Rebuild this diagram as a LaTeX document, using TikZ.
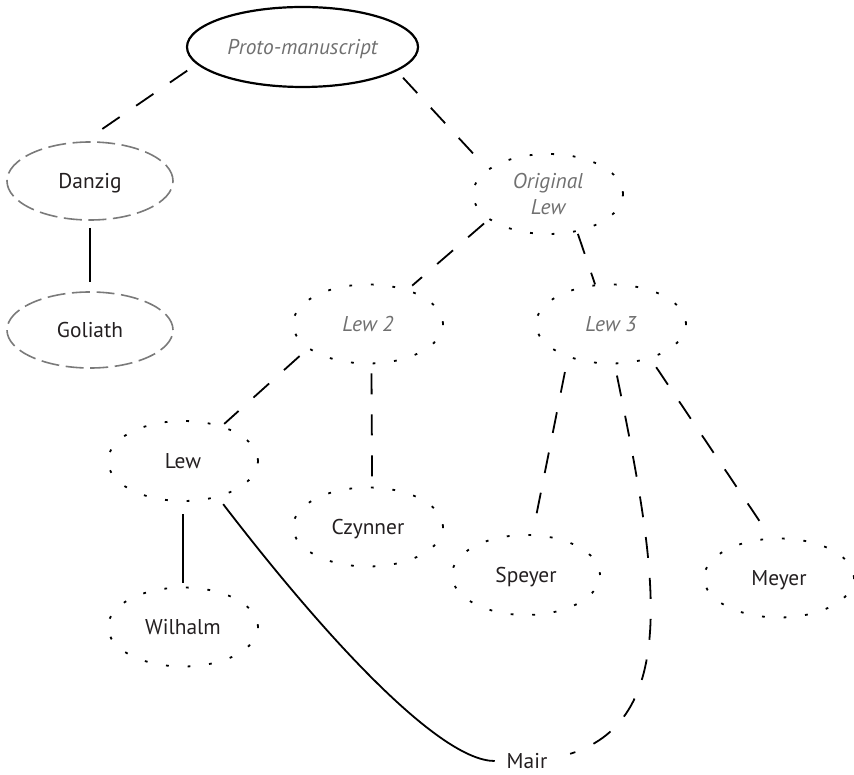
\documentclass[tikz,border=0pt]{standalone}
\usepackage{fontspec}
\setmainfont{PT Sans}
\usetikzlibrary{shapes.geometric}
\definecolor{txtgray}{HTML}{707070}
\definecolor{txtdark}{HTML}{231F20}
\definecolor{bordgray}{HTML}{7A7A7A}
\begin{document}
\begin{tikzpicture}[x=0.5pt,y=-0.5pt,
  base/.style={ellipse, inner sep=0pt, outer sep=0pt, font=\fontsize{10.7}{13}\selectfont, text=txtdark, align=center},
  oneline/.style={text height=7.5pt, text depth=0pt},
  solidbox/.style={base, oneline, draw=black, line width=1.1pt, minimum width=115.5pt, minimum height=40pt},
  grayring/.style={base, oneline, draw=bordgray, line width=0.8pt, dash pattern=on 9pt off 3.3pt, minimum width=83pt, minimum height=39pt},
  dotbox/.style={base, draw=black, line width=0.9pt, dash pattern=on 1.4pt off 9.4pt, minimum width=75pt, minimum height=39.5pt},
  ital/.style={text=txtgray, font=\fontsize{10.7}{13}\selectfont\itshape},
  longdash/.style={draw=black, line width=0.9pt, dash pattern=on 10.5pt off 10pt},
  plainline/.style={draw=black, line width=0.9pt},
]
\useasboundingbox (0,0) rectangle (854,774);

% nodes
\node[solidbox, ital] (proto) at (302.5,47) {Proto-manuscript};
\node[grayring] (danzig) at (90,181) {Danzig};
\node[grayring, minimum height=38pt] (goliath) at (90,330) {Goliath};
\node[dotbox, ital, minimum height=40pt] (origlew) at (548,194) {Original\\Lew};
\node[dotbox, oneline, ital] (lew2) at (368,324) {Lew 2};
\node[dotbox, oneline, ital] (lew3) at (611,324) {Lew 3};
\node[dotbox, oneline, minimum height=40pt] (lew) at (183,461) {Lew};
\node[dotbox, oneline] (czynner) at (368,527) {Czynner};
\node[dotbox, oneline, minimum width=74pt, minimum height=40pt] (speyer) at (526,575) {Speyer};
\node[dotbox, oneline] (meyer) at (779,578) {Meyer};
\node[dotbox, oneline] (wilhalm) at (183,627) {Wilhalm};
\node[inner sep=0pt, outer sep=0pt, font=\fontsize{10.7}{13}\selectfont, text=txtdark, text height=7.5pt, text depth=0pt] (mair) at (527,761) {Mair};

% connectors
\draw[longdash, shorten <=6.2pt, shorten >=9pt] (proto.189.3) -- (danzig.100);
\draw[longdash, shorten <=5pt, shorten >=7.5pt] (proto.346.8) -- (origlew.158.3);
\draw[plainline, shorten <=4pt, shorten >=5pt] (danzig.south) -- (goliath.north);
\draw[longdash, shorten <=3.5pt, shorten >=3.5pt] (origlew.203.8) -- (lew2.41.6);
\draw[longdash, shorten <=1.6pt, shorten >=0.5pt] (origlew.308.1) -- (lew3.112.8);
\draw[longdash, shorten <=6pt, shorten >=2pt] (lew2.202.1) -- (lew.42.1);
\draw[longdash, shorten <=5pt, shorten >=4pt] (lew2.275.9) -- (czynner.84.2);
\draw[longdash, shorten <=8pt, shorten >=6.7pt] (lew3.217.7) -- (speyer.81);
\draw[longdash, shorten <=5.7pt, shorten >=4.6pt] (lew3.319) -- (meyer.101.2);
\draw[plainline, shorten <=6.5pt, shorten >=2.2pt] (lew.south) -- (wilhalm.north);
\draw[plainline, shorten <=4.8pt, shorten >=6pt] (lew.314.8) .. controls +(112,146) and +(-66,0) .. (mair.west);
\draw[longdash, shorten <=6.2pt, shorten >=12pt] (lew3.275.3) .. controls +(40.4,197) and +(137,-43) .. (mair.east);
\end{tikzpicture}
\end{document}
